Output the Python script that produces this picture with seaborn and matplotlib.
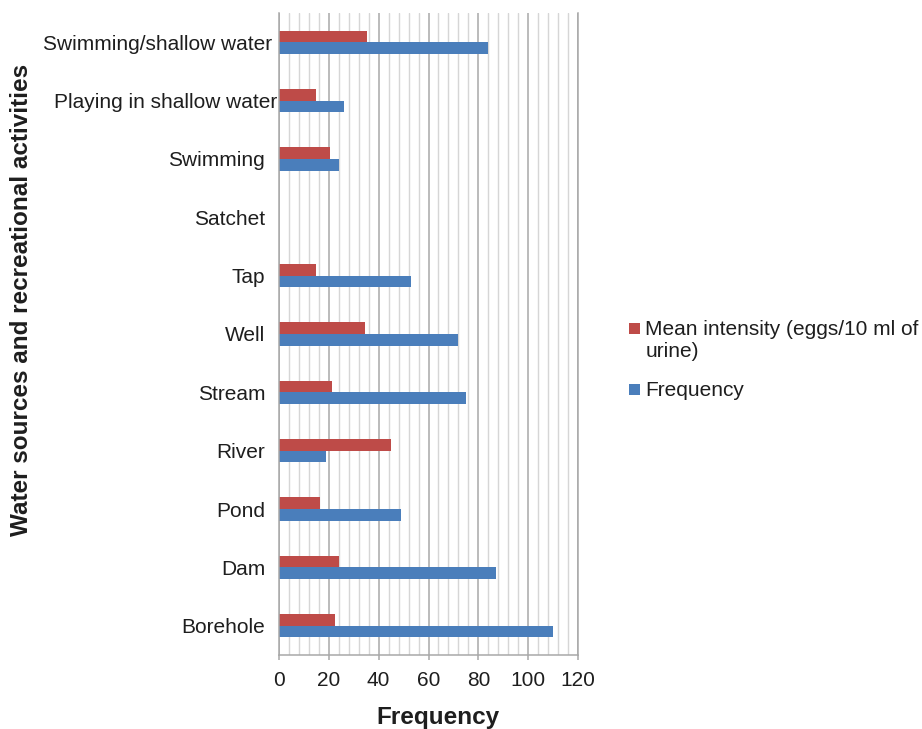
import matplotlib
matplotlib.use("Agg")
import matplotlib.pyplot as plt
from matplotlib.patches import Patch, Rectangle
from matplotlib.legend_handler import HandlerPatch
from matplotlib.ticker import MultipleLocator
from matplotlib.transforms import ScaledTranslation
import pandas as pd
import seaborn as sns

# Water sources / recreational activities (top to bottom)
categories = [
    "Swimming/shallow water",
    "Playing in shallow water",
    "Swimming",
    "Satchet",
    "Tap",
    "Well",
    "Stream",
    "River",
    "Pond",
    "Dam",
    "Borehole",
]
mean_intensity = [35.2, 15.0, 20.6, 0, 15.0, 34.4, 21.3, 44.8, 16.6, 24.1, 22.6]
frequency = [84, 26, 24, 0, 53, 72, 75, 19, 49, 87, 110]

series_names = ["Mean intensity (eggs/10 ml of\nurine)", "Frequency"]
series_colors = ["#BE4B48", "#4A7EBB"]
x_ticks = [0, 20, 40, 60, 80, 100, 120]

df = pd.DataFrame({
    "category": categories * 2,
    "series": [series_names[0]] * len(categories) + [series_names[1]] * len(categories),
    "value": mean_intensity + frequency,
})

sns.set_theme(style="white")
plt.rcParams["font.family"] = ["Liberation Sans", "DejaVu Sans"]
text_color = "#1E1E1E"
major_grey = "#A8A8A8"
minor_grey = "#D6D6D6"

W, H = 922, 729
fig = plt.figure(figsize=(W / 100, H / 100), dpi=100)
ax = fig.add_axes([279 / W, 1 - 655 / H, 299 / W, 642 / H])

sns.barplot(
    data=df, y="category", x="value", hue="series",
    order=categories, hue_order=series_names,
    palette=series_colors, saturation=1, orient="h", width=0.4,
    linewidth=0, legend=False, ax=ax,
)

ax.set_xlim(x_ticks[0], x_ticks[-1])
ax.set_xticks(x_ticks)
ax.xaxis.set_minor_locator(MultipleLocator(4))
ax.set_axisbelow(True)
ax.grid(which="major", axis="x", color=major_grey, linewidth=1.1)
ax.grid(which="minor", axis="x", color=minor_grey, linewidth=1.0)
ax.grid(which="both", axis="y", visible=False)

for side in ("left", "right", "bottom"):
    ax.spines[side].set_visible(True)
    ax.spines[side].set_color(major_grey)
    ax.spines[side].set_linewidth(1.1)
ax.spines["top"].set_visible(False)

ax.tick_params(axis="x", which="major", bottom=True, direction="out",
               length=3.6, width=1.1, color=major_grey,
               labelsize=15, labelcolor=text_color, pad=8)
ax.tick_params(axis="x", which="minor", length=0)
ax.tick_params(axis="y", which="both", left=False, length=0,
               labelsize=15, labelcolor=text_color, pad=10)

ax.set_xlabel("Frequency", fontsize=17.5, fontweight="bold", color=text_color)
ax.set_ylabel("Water sources and recreational activities", fontsize=17.5,
              fontweight="bold", color=text_color)
ax.xaxis.set_label_coords(0.532, -0.079)
ax.yaxis.set_label_coords(-0.823, 0.553)

# the two long category names run closer to the axis
label_shift = {"Swimming/shallow water": 7, "Playing in shallow water": 12}
for lbl in ax.get_yticklabels():
    dx = label_shift.get(lbl.get_text())
    if dx:
        lbl.set_transform(lbl.get_transform()
                          + ScaledTranslation(dx / 100, 0, fig.dpi_scale_trans))


def square_patch(legend, orig_handle, xdescent, ydescent, width, height, fontsize):
    return Rectangle((-xdescent, -ydescent), width, width)


handles = [Patch(facecolor=c, edgecolor="none") for c in series_colors]
leg = ax.legend(
    handles, series_names,
    loc="upper left", bbox_to_anchor=(629 / W, 1 - 320 / H),
    bbox_transform=fig.transFigure, frameon=False,
    fontsize=15, borderpad=0, borderaxespad=0,
    handlelength=0.53, handleheight=0.68, handletextpad=0.25,
    labelspacing=0.95,
    handler_map={Patch: HandlerPatch(patch_func=square_patch)},
)
for t in leg.get_texts():
    t.set_color(text_color)
# keep each marker level with the first line of its label
try:
    for column in leg._legend_handle_box.get_children():
        for row in column.get_children():
            row.align = "top"
except AttributeError:
    pass

fig.savefig("out.png", dpi=100, facecolor="white")
